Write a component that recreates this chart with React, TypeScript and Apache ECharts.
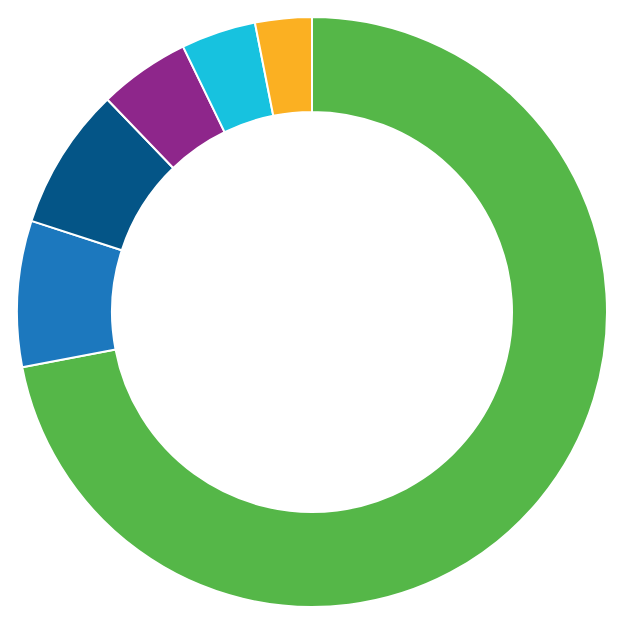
import { useRef, useEffect } from 'react'
import * as echarts from 'echarts'

const CATEGORIES = ['A', 'B', 'C', 'D', 'E', 'F']
const VALUES = [72, 8, 7.8, 5, 4.1, 3.1]
const COLORS = ['#55b748', '#1c78be', '#045587', '#8e268b', '#17c2df', '#fbb022']

export default function App() {
  const ref = useRef<HTMLDivElement>(null)

  useEffect(() => {
    const el = ref.current
    if (!el) return
    const chart = echarts.init(el, null, { renderer: 'svg' })
    chart.setOption({
      animation: false,
      backgroundColor: '#ffffff',
      series: [
        {
          type: 'pie',
          center: [312, 312],
          radius: [200, 295],
          startAngle: 90,
          clockwise: true,
          label: { show: false },
          labelLine: { show: false },
          itemStyle: { borderColor: '#ffffff', borderWidth: 2 },
          emphasis: { disabled: true },
          data: CATEGORIES.map((name, i) => ({
            name,
            value: VALUES[i],
            itemStyle: { color: COLORS[i] },
          })),
        },
      ],
    })
    return () => chart.dispose()
  }, [])

  return <div ref={ref} style={{ position: 'fixed', left: 0, top: 0, width: 625, height: 625 }} />
}
